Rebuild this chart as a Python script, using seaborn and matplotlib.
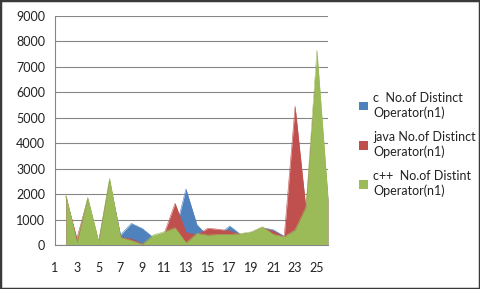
import numpy as np
import matplotlib
matplotlib.use("Agg")
import matplotlib.pyplot as plt
from matplotlib.patches import Patch, Rectangle
import seaborn as sns

sns.set_style("white")
plt.rcParams['font.family'] = ['Lato', 'DejaVu Sans']

# categories 1..26, first one has no value
categories = list(range(1, 27))
c_vals = [np.nan, 1900, 50, 1800, 100, 2500, 400, 850, 650, 300, 450, 500, 2200,
          800, 350, 400, 750, 420, 480, 680, 600, 350, 500, 1200, 7000, 1800]
java_vals = [np.nan, 1900, 260, 1800, 100, 2500, 300, 250, 50, 300, 450, 1640, 500,
             400, 660, 620, 560, 420, 480, 680, 550, 320, 5450, 1400, 7000, 1800]
cpp_vals = [np.nan, 1980, 100, 1870, 150, 2620, 300, 180, 30, 400, 520, 680, 90,
            460, 390, 420, 420, 450, 520, 720, 420, 330, 600, 1500, 7650, 1950]

labels = ["c  No.of Distinct\nOperator(n1)",
          "java No.of Distinct\nOperator(n1)",
          "c++  No.of Distint\nOperator(n1)"]
colors = ["#4F81BD", "#C0504D", "#9BBB59"]
series = [c_vals, java_vals, cpp_vals]

fig = plt.figure(figsize=(4.8, 2.89), dpi=100)
ax = fig.add_axes([0.1146, 0.152, 0.5684, 0.793])

x = np.array(categories, dtype=float)
for vals, col in zip(series, colors):
    y = np.array(vals, dtype=float)
    ax.fill_between(x, 0, y, color=col, linewidth=0, zorder=2)
    sns.lineplot(x=x, y=y, color=col, linewidth=0.4, ax=ax, zorder=2)

ax.set_xlim(1, 26)
ax.set_ylim(0, 9000)
ax.set_yticks(range(0, 9001, 1000))
ax.set_xticks(categories)
ax.set_xticklabels([str(c) if c % 2 == 1 else "" for c in categories])
ax.yaxis.grid(True, color="#868686", linewidth=0.8)
ax.set_axisbelow(True)
for s in ["top", "right"]:
    ax.spines[s].set_visible(False)
for s in ["left", "bottom"]:
    ax.spines[s].set_color("#868686")
    ax.spines[s].set_linewidth(0.8)
ax.tick_params(axis="y", length=4, width=0.8, color="#868686", pad=3, labelsize=9, labelcolor="#222222")
ax.tick_params(axis="x", length=4, width=0.8, color="#868686", pad=8, labelsize=9, labelcolor="#222222")
ax.set_xlabel("")
ax.set_ylabel("")

handles = [Patch(facecolor=c, edgecolor="none") for c in colors]
fig.legend(handles, labels, loc="upper left", bbox_to_anchor=(0.725, 0.72),
           frameon=False, fontsize=9, handlelength=0.7, handleheight=0.7,
           handletextpad=0.4, labelspacing=1.0, labelcolor="#222222")

fig.patches.append(Rectangle((0, 0), 1, 1, transform=fig.transFigure, fill=False,
                             edgecolor="#3a3a3a", linewidth=2.5))

fig.savefig("out.png", dpi=100)
